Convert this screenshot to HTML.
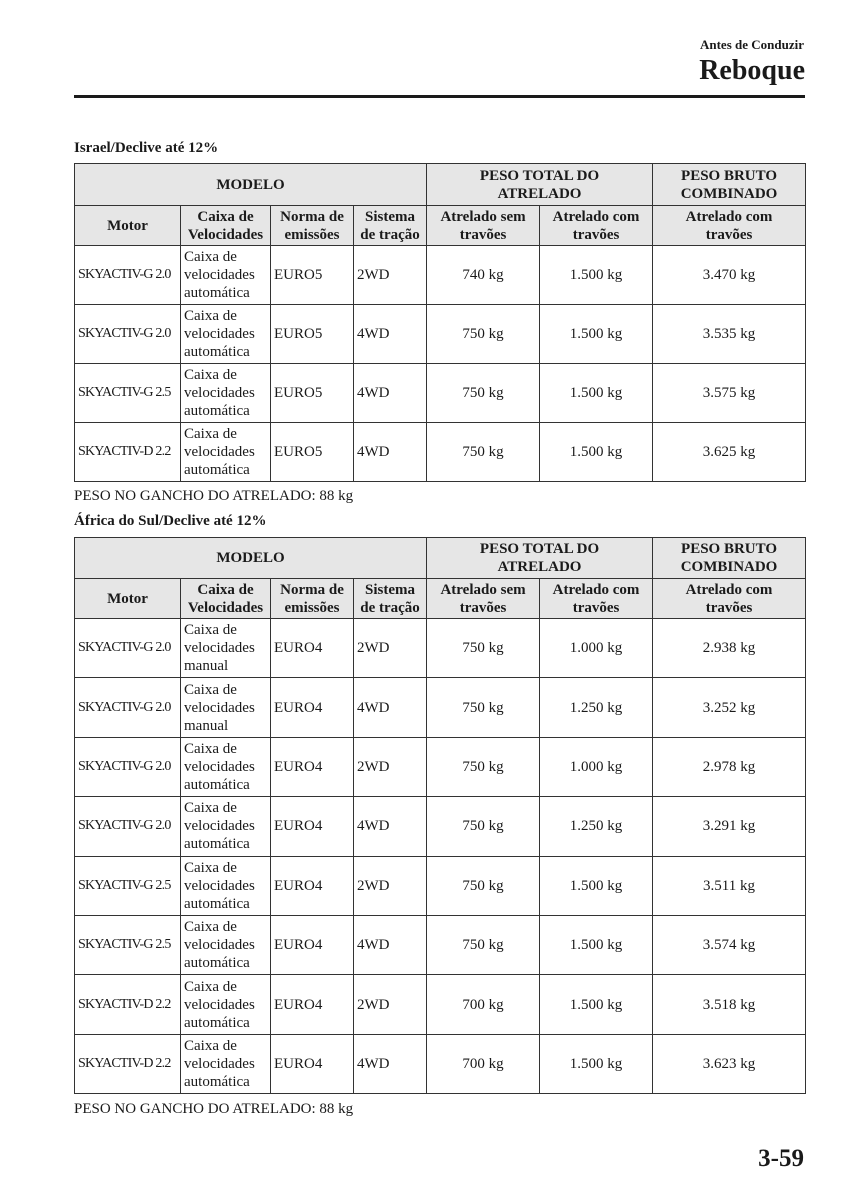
<!DOCTYPE html>
<html><head><meta charset="utf-8"><style>
body{margin:0;background:#fff;font-family:"Liberation Serif",serif;color:#1a1a1a}
.page{position:relative;width:845px;height:1200px;overflow:hidden}
.abs{position:absolute}
table{position:absolute;left:74px;border-collapse:collapse;table-layout:fixed;width:731px}
td{border:1px solid #333;padding:0 3px;font-size:15px;line-height:18px;vertical-align:middle}
.h td{background:#e6e6e6;font-weight:bold;text-align:center;line-height:18px}
.d td{height:58px}
.t2 .d td{height:58.4px}
.m{font-size:14px;letter-spacing:-0.8px;white-space:nowrap;padding:0 2px 0 3px}
.c{text-align:center}
.foot{font-size:15px;left:74px}
.ttl{font-size:15px;font-weight:bold;left:74px}
</style></head><body><div class="page">
<div class="abs" style="right:41px;top:37px;font-size:13px;font-weight:bold">Antes de Conduzir</div>
<div class="abs" style="right:40px;top:55px;font-size:28px;font-weight:bold">Reboque</div>
<div class="abs" style="left:74px;top:95px;width:731px;height:3px;background:#1a1a1a"></div>
<div class="abs ttl" style="top:140px">Israel/Declive até 12%</div>
<table style="top:163px">
<colgroup><col style="width:106px"><col style="width:90px"><col style="width:83px"><col style="width:73px"><col style="width:113px"><col style="width:113px"><col style="width:153px"></colgroup>
<tr class="h" style="height:42px"><td colspan="4">MODELO</td><td colspan="2">PESO TOTAL DO<br>ATRELADO</td><td>PESO BRUTO<br>COMBINADO</td></tr>
<tr class="h" style="height:40px"><td>Motor</td><td>Caixa de<br>Velocidades</td><td>Norma de<br>emissões</td><td>Sistema<br>de tração</td><td>Atrelado sem<br>travões</td><td>Atrelado com<br>travões</td><td>Atrelado com<br>travões</td></tr>
<tr class="d"><td class="m">SKYACTIV-G 2.0</td><td>Caixa de<br>velocidades<br>automática</td><td>EURO5</td><td>2WD</td><td class="c">740 kg</td><td class="c">1.500 kg</td><td class="c">3.470 kg</td></tr>
<tr class="d"><td class="m">SKYACTIV-G 2.0</td><td>Caixa de<br>velocidades<br>automática</td><td>EURO5</td><td>4WD</td><td class="c">750 kg</td><td class="c">1.500 kg</td><td class="c">3.535 kg</td></tr>
<tr class="d"><td class="m">SKYACTIV-G 2.5</td><td>Caixa de<br>velocidades<br>automática</td><td>EURO5</td><td>4WD</td><td class="c">750 kg</td><td class="c">1.500 kg</td><td class="c">3.575 kg</td></tr>
<tr class="d"><td class="m">SKYACTIV-D 2.2</td><td>Caixa de<br>velocidades<br>automática</td><td>EURO5</td><td>4WD</td><td class="c">750 kg</td><td class="c">1.500 kg</td><td class="c">3.625 kg</td></tr>
</table>
<div class="abs foot" style="top:488px">PESO NO GANCHO DO ATRELADO: 88 kg</div>
<div class="abs ttl" style="top:513px">África do Sul/Declive até 12%</div>
<table class="t2" style="top:537px">
<colgroup><col style="width:106px"><col style="width:90px"><col style="width:83px"><col style="width:73px"><col style="width:113px"><col style="width:113px"><col style="width:153px"></colgroup>
<tr class="h" style="height:41px"><td colspan="4">MODELO</td><td colspan="2">PESO TOTAL DO<br>ATRELADO</td><td>PESO BRUTO<br>COMBINADO</td></tr>
<tr class="h" style="height:40px"><td>Motor</td><td>Caixa de<br>Velocidades</td><td>Norma de<br>emissões</td><td>Sistema<br>de tração</td><td>Atrelado sem<br>travões</td><td>Atrelado com<br>travões</td><td>Atrelado com<br>travões</td></tr>
<tr class="d"><td class="m">SKYACTIV-G 2.0</td><td>Caixa de<br>velocidades<br>manual</td><td>EURO4</td><td>2WD</td><td class="c">750 kg</td><td class="c">1.000 kg</td><td class="c">2.938 kg</td></tr>
<tr class="d"><td class="m">SKYACTIV-G 2.0</td><td>Caixa de<br>velocidades<br>manual</td><td>EURO4</td><td>4WD</td><td class="c">750 kg</td><td class="c">1.250 kg</td><td class="c">3.252 kg</td></tr>
<tr class="d"><td class="m">SKYACTIV-G 2.0</td><td>Caixa de<br>velocidades<br>automática</td><td>EURO4</td><td>2WD</td><td class="c">750 kg</td><td class="c">1.000 kg</td><td class="c">2.978 kg</td></tr>
<tr class="d"><td class="m">SKYACTIV-G 2.0</td><td>Caixa de<br>velocidades<br>automática</td><td>EURO4</td><td>4WD</td><td class="c">750 kg</td><td class="c">1.250 kg</td><td class="c">3.291 kg</td></tr>
<tr class="d"><td class="m">SKYACTIV-G 2.5</td><td>Caixa de<br>velocidades<br>automática</td><td>EURO4</td><td>2WD</td><td class="c">750 kg</td><td class="c">1.500 kg</td><td class="c">3.511 kg</td></tr>
<tr class="d"><td class="m">SKYACTIV-G 2.5</td><td>Caixa de<br>velocidades<br>automática</td><td>EURO4</td><td>4WD</td><td class="c">750 kg</td><td class="c">1.500 kg</td><td class="c">3.574 kg</td></tr>
<tr class="d"><td class="m">SKYACTIV-D 2.2</td><td>Caixa de<br>velocidades<br>automática</td><td>EURO4</td><td>2WD</td><td class="c">700 kg</td><td class="c">1.500 kg</td><td class="c">3.518 kg</td></tr>
<tr class="d"><td class="m">SKYACTIV-D 2.2</td><td>Caixa de<br>velocidades<br>automática</td><td>EURO4</td><td>4WD</td><td class="c">700 kg</td><td class="c">1.500 kg</td><td class="c">3.623 kg</td></tr>
</table>
<div class="abs foot" style="top:1101px">PESO NO GANCHO DO ATRELADO: 88 kg</div>
<div class="abs" style="right:41px;top:1145px;font-size:25px;font-weight:bold">3-59</div>
</div></body></html>
